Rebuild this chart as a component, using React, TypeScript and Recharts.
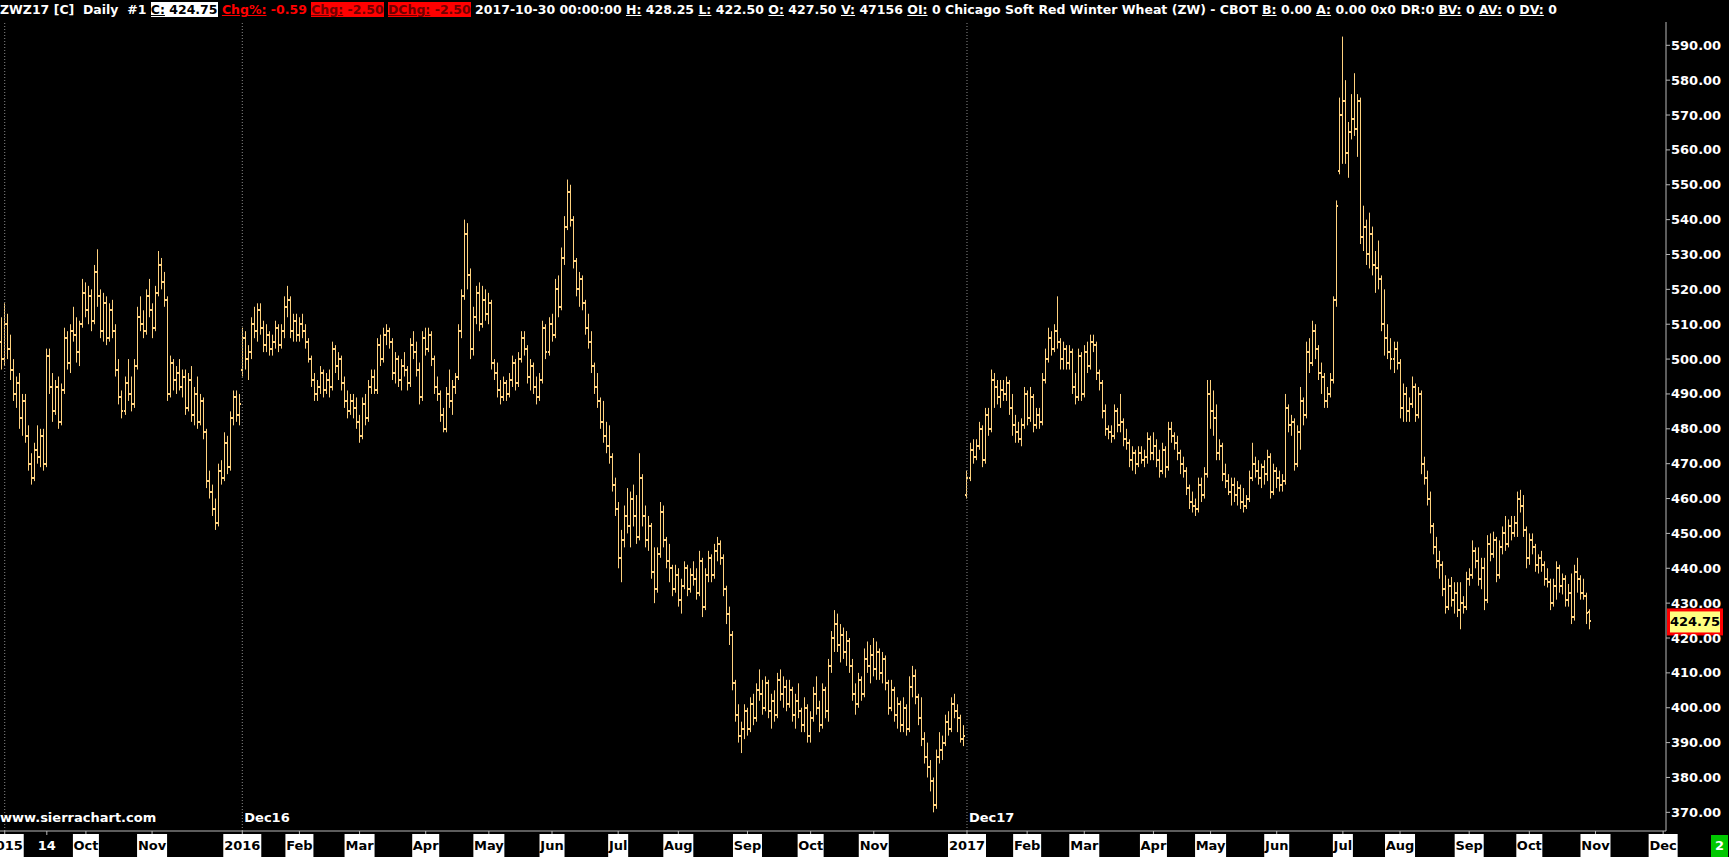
import { ComposedChart, Bar, XAxis, YAxis, ReferenceLine } from "recharts";

// ZWZ17 continuous daily bars (Dec15 -> Dec16 -> Dec17 contracts)
const opens = [
  505,500,510,503,497,490,493,483,488,478, 470,466,474,472,478,470,501,492,485,492,
  482,491,506,499,508,507,502,510,519,514, 518,511,525,518,508,516,506,514,508,497,
  489,485,493,490,487,498,512,510,508,518, 514,509,519,527,522,517,490,499,494,496,
  492,495,486,494,484,490,482,488,479,465, 462,457,453,468,466,476,469,483,489,484,
  497,506,500,502,510,508,514,509,504,507, 503,505,509,504,508,515,517,508,511,507,
  510,508,505,500,494,490,492,496,491,494, 492,503,498,500,493,488,485,488,486,482,
  478,487,483,492,495,491,504,500,507,508, 505,496,500,494,498,497,493,504,502,497,
  489,506,503,507,500,492,490,484,480,490, 488,492,495,508,518,536,524,503,512,519,
  510,517,513,516,499,496,491,489,493,490, 494,499,493,500,506,503,495,498,492,489,
  494,509,502,510,507,520,515,529,538,548, 540,528,520,523,516,509,505,498,492,488,
  482,478,475,472,464,457,443,448,455,452, 460,455,449,466,455,448,452,439,434,444,
  456,448,442,440,434,438,431,435,440,434, 438,437,433,442,429,438,443,438,445,447,
  443,434,427,421,407,398,392,394,399,394, 401,397,405,404,400,407,399,402,398,408,
  404,406,401,405,398,402,399,395,400,392, 397,404,400,395,405,399,412,420,424,418,
  421,416,419,412,404,401,408,404,414,412, 415,411,416,410,414,407,400,405,398,401,
  395,400,394,406,409,403,397,391,386,383, 379,372,386,388,390,396,394,401,399,397,391,
  461,466,474,472,475,480,471,484,480,494, 492,489,491,490,493,486,481,479,477,481,
  490,483,489,481,484,482,494,500,506,503, 508,505,500,503,499,502,492,489,501,490,
  502,498,505,504,496,493,485,480,479,478, 485,481,482,477,476,471,473,470,473,471,
  472,477,473,475,471,468,474,469,480,478, 476,473,470,468,463,459,458,457,464,461,
  467,490,485,483,473,475,467,465,462,464, 461,463,459,458,460,466,470,468,466,469,
  467,472,462,468,466,464,465,486,481,482, 470,479,488,484,502,499,508,503,496,495,
  488,490,494,517,554,570,574,559,565,569, 566,574,535,538,530,536,527,526,523,510,
  506,502,500,503,499,486,490,485,487,492, 484,490,470,466,460,452,446,442,441,434,
  429,435,431,433,428,430,429,437,438,445, 442,437,440,431,447,444,448,438,446,450,
  447,452,450,453,460,458,451,443,448,446, 441,443,441,437,436,430,435,440,435,437,
  431,433,426,439,437,433,432,427.5,
];
const highs = [
  512,516,513,507,500,495,496,490,490,481, 473,476,481,480,480,503,503,496,494,495,
  493,509,508,510,515,512,511,523,522,521, 520,527,531.5,520,519,518,516,517,510,500,
  491,495,500,495,500,515,518,514,520,523, 516,521,531,529,525,518,501,500,498,500,
  497,497,496,498,492,495,490,489,480,468, 464,460,470,471,479,478,485,491,491,490,
  509,508,504,512,515,516,516,511,510,508, 507,511,510,510,518,521,518,513,513,512,
  513,510,506,501,496,494,498,497,496,497, 505,504,502,501,495,491,490,490,489,484,
  489,490,494,497,497,506,507,509,510,509, 506,502,501,500,502,498,506,508,505,499,
  508,509,509,508,501,495,491,486,492,497, 494,496,510,520,540,539,526,515,521,522,
  521,520,519,517,500,499,494,495,494,496, 501,500,502,508,508,504,500,499,495,496,
  511,510,512,513,523,524,532,541,551.5,550, 541,529,525,524,517,513,508,499,496,489,
  488,482,481,473,466,459,451,458,463,462, 464,461,473,467,458,455,453,446,446,459,
  458,449,447,441,441,440,437,442,441,440, 442,440,445,443,440,445,444,447,449,448,
  444,435,429,422,408,401,396,401,400,403, 404,407,411,408,409,408,404,405,410,411,
  409,408,408,406,404,407,400,403,401,399, 406,409,402,407,406,414,422,428,427,424,
  423,422,420,414,407,410,409,417,419,418, 420,419,417,416,415,408,408,406,403,402,
  403,401,409,412,411,404,403,393,390,385, 380,388,393,392,398,399,403,404,401,398,395,
  468,476,477,477,482,481,486,486,497,496, 494,494,494,495,494,490,484,482,483,492,
  491,492,490,486,486,496,503,509,508,510, 518,506,505,504,504,503,496,503,502,504,
  505,507,507,505,497,494,487,481,481,487, 486,490,483,480,477,475,474,475,475,474,
  479,478,479,477,474,476,475,482,482,479, 478,474,472,469,464,462,460,466,466,469,
  494,494,491,487,477,476,470,467,466,466, 465,464,463,461,468,476,472,471,470,471,
  474,473,470,469,468,467,490,487,484,483, 481,492,489,505,506,511,510,504,499,496,
  492,496,518,545.5,575,592.5,580,568,576,582, 576,575,544,540,542,538,531,534,524,520,
  510,506,505,505,500,493,492,489,495,493, 492,491,472,468,462,453,449,445,442,438,
  437,437.5,436,436,436,432,439,440,448,446, 446,443,443,449.5,450,450.5,449,448,452,455,
  454,455,455,462,462.5,461,452,450,450,447, 444,445,442,440,437,437,442,441,438.5,438,
  435.5,438.5,441,443,438,437,433,428.25,
];
const lows = [
  497,498,500,494,488,486,480,478,476,468, 464,465,470,469,468,469,490,482,484,480,
  481,490,497,496,505,499,498,509,512,510, 508,510,515,506,505,504,505,506,495,487,
  483,484,488,485,486,497,508,506,507,512, 506,508,518,520,515,488,489,491,490,491,
  489,484,485,482,481,480,481,477,463,460, 455,451,452,464,465,467,468,481,482,481,
  495,497,494,500,506,505,507,502,502,501, 501,503,502,503,506,512,506,505,505,505,
  506,503,499,492,488,488,490,489,490,489, 491,496,494,491,486,483,484,483,480,476,
  477,481,482,490,490,490,498,499,504,503, 494,493,492,491,495,491,492,500,495,487,
  488,501,502,498,490,488,482,479,479,486, 484,490,494,506,517,520,500,501,510,508,
  509,511,510,497,494,489,487,488,488,489, 492,491,492,499,501,493,491,490,487,488,
  493,500,501,505,506,512,514,527,537,538, 526,518,515,514,507,503,496,490,486,480,
  476,473,470,462,455,440,436,446,450,446, 452,447,448,452,446,445,437,430,433,443,
  446,440,436,432,433,429,427,434,432,433, 435,431,432,426,428,436,436,437,442,441,
  432,424,418,405,396,390,387,391,392,393, 395,396,402,398,399,397,394,396,397,402,
  400,399,400,396,394,397,393,393,390,390, 396,398,393,394,397,396,410,416,416,413,
  414,412,410,402,398,400,402,403,410,407, 409,408,408,407,405,398,399,396,394,393,
  393,392,393,403,401,395,389,384,380,376, 370,371,384,385,389,392,393,397,393,390,389,
  460,465,470,471,474,469,470,478,479,486, 487,486,488,488,484,478,476,476,475,480,
  481,482,479,480,480,481,493,499,501,502, 503,497,497,497,497,490,487,488,488,489,
  496,497,502,494,491,483,478,477,476,477, 479,479,475,474,469,468,467,469,470,469,
  470,471,471,469,466,467,466,468,476,474, 471,467,466,461,457,456,455,456,459,460,
  466,480,478,471,471,465,463,461,458,459, 458,457,456,457,459,465,466,464,463,464,
  465,460,461,463,462,462,464,479,478,468, 469,474,481,483,496,498,500,494,490,486,
  486,489,493,515,553,556,556,552,563,564, 558,533,531,527,526,524,519,520,508,501,
  500,497,496,497,483,482,482,482,486,482, 483,467,464,458,450,444,440,437,432,427,
  428,429,427,426,422.5,427,428,435,437,440, 435,434,428,430,442,443,436,437,444,445,
  446,448,449,449,456,449,440,441,444,439, 438.5,439,435,434.5,428,429,431,433,432.5,429,
  429,424,425,433,431,431,424,422.5,
];
const closes = [
  500,510,503,497,490,493,483,488,478,470, 466,474,472,478,470,501,492,485,492,482,
  491,506,499,508,507,502,510,519,514,518, 511,525,518,508,516,506,514,508,497,489,
  485,493,490,487,498,512,510,508,518,514, 509,519,527,522,517,490,499,494,496,492,
  495,486,494,484,490,482,488,479,465,462, 457,453,468,466,476,469,483,489,484,487,
  506,500,502,510,508,514,509,504,507,503, 505,509,504,508,515,517,508,511,507,510,
  508,505,500,494,490,492,496,491,494,492, 503,498,500,493,488,485,488,486,482,478,
  487,483,492,495,491,504,500,507,508,505, 496,500,494,498,497,493,504,502,497,489,
  506,503,507,500,492,490,484,480,490,488, 492,495,508,518,536,524,503,512,519,510,
  517,513,516,499,496,491,489,493,490,494, 499,493,500,506,503,495,498,492,489,494,
  509,502,510,507,520,515,529,538,548,540, 528,520,523,516,509,505,498,492,488,482,
  478,475,472,464,457,443,448,455,452,460, 455,449,466,455,448,452,439,434,444,456,
  448,442,440,434,438,431,435,440,434,438, 437,433,442,429,438,443,438,445,447,443,
  434,427,421,407,398,392,394,399,394,401, 397,405,404,400,407,399,402,398,408,404,
  406,401,405,398,402,399,395,400,392,397, 404,400,395,405,399,412,420,424,418,421,
  416,419,412,404,401,408,404,414,412,415, 411,416,410,414,407,400,405,398,401,395,
  400,394,406,409,403,397,391,386,383,379, 372,386,388,390,396,394,401,399,397,391,392,
  466,474,472,475,480,471,484,480,494,492, 489,491,490,493,486,481,479,477,481,490,
  483,489,481,484,482,494,500,506,503,508, 505,500,503,499,502,492,489,501,490,502,
  498,505,504,496,493,485,480,479,478,485, 481,482,477,476,471,473,470,473,471,472,
  477,473,475,471,468,474,469,480,478,476, 473,470,468,463,459,458,457,464,461,467,
  490,485,483,473,475,467,465,462,464,461, 463,459,458,460,466,470,468,466,469,467,
  472,462,468,466,464,465,486,481,482,470, 479,488,484,502,499,508,503,496,495,488,
  490,494,517,544,570,574,559,565,569,566, 574,535,538,530,536,527,526,523,510,506,
  502,500,503,499,486,490,485,487,492,484, 490,470,466,460,452,446,442,441,434,429,
  435,431,433,428,430,429,437,438,445,442, 437,440,431,447,444,448,438,446,450,447,
  452,450,453,460,458,451,443,448,446,441, 443,441,437,436,430,435,440,435,437,431,
  433,426,439,437,433,432,427.25,424.75,
];

// date axis: bar index of each labelled day, and its label
const tickIdx = [1, 15, 28, 50, 80, 99, 119, 141, 162, 183, 205, 225, 248, 269, 290,
  321, 341, 360, 383, 402, 424, 446, 465, 488, 508, 530, 552.5];
const tickText = ["2015", "14", "Oct", "Nov", "2016", "Feb", "Mar", "Apr", "May", "Jun", "Jul", "Aug", "Sep", "Oct", "Nov",
  "2017", "Feb", "Mar", "Apr", "May", "Jun", "Jul", "Aug", "Sep", "Oct", "Nov", "Dec"];
const priceTicks = [370, 380, 390, 400, 410, 420, 430, 440, 450, 460, 470, 480, 490, 500, 510, 520, 530, 540, 550, 560, 570, 580, 590];
const rollIdx = [1, 80, 321];
const rollText = ["", "Dec16", "Dec17"];

const FONT = "'DejaVu Sans', Verdana, sans-serif";
const BAR = "#ffd27f";
const AXIS = "#b8b8b8";

const rows = closes.map((c, i) => ({ i, range: [lows[i], highs[i]], o: opens[i], h: highs[i], l: lows[i], c }));
const last = closes.length - 1;
const chg = closes[last] - closes[last - 1];
const chgPct = (chg / closes[last - 1]) * 100;

let ctx: CanvasRenderingContext2D | null = null;
function textWidth(s: string) {
  if (!ctx) ctx = document.createElement("canvas").getContext("2d");
  ctx!.font = `bold 13px ${FONT}`;
  return ctx!.measureText(s).width;
}

function OhlcShape(props: any) {
  const { x, y, width, height, payload } = props;
  if (x == null || y == null || !payload) return null;
  const top = Math.min(y, y + height);
  const bot = Math.max(y, y + height);
  const span = payload.h - payload.l;
  const at = (v: number) => (span > 0 ? top + ((payload.h - v) / span) * (bot - top) : top);
  const cx = Math.round(x + width / 2 - 0.5);
  const oy = Math.round(at(payload.o));
  const cy = Math.round(at(payload.c));
  return (
    <g fill={BAR}>
      <rect x={cx} y={top} width={1} height={Math.max(bot - top, 1)} />
      <rect x={cx - 1} y={oy - 1} width={1} height={2} />
      <rect x={cx + 1} y={cy - 1} width={1} height={2} />
    </g>
  );
}

function DateTick({ x, y, payload }: any) {
  const label = tickText[tickIdx.indexOf(payload.value)];
  if (!label) return null;
  const plain = label === "14";
  const w = Math.ceil(textWidth(label)) + 1;
  return (
    <g>
      {!plain && <rect x={x - w / 2} y={y - 1} width={w} height={23} fill="#fff" />}
      <text x={x} y={y + 15} textAnchor="middle" fill={plain ? "#fff" : "#000"} fontFamily={FONT} fontWeight="bold" fontSize={13}>
        {label}
      </text>
    </g>
  );
}

function PriceTick({ x, y, payload }: any) {
  return (
    <text x={x} y={y + 4.5} fill="#fff" fontFamily={FONT} fontWeight="bold" fontSize={13}>
      {Number(payload.value).toFixed(2)}
    </text>
  );
}

function RollLabel({ viewBox, text }: any) {
  if (!viewBox || !text) return null;
  return (
    <text x={viewBox.x + 2} y={viewBox.y + viewBox.height - 9} fill="#fff" fontFamily={FONT} fontWeight="bold" fontSize={13}>
      {text}
    </text>
  );
}

function LastPrice({ viewBox }: any) {
  if (!viewBox) return null;
  const x = viewBox.x + viewBox.width + 2.5;
  return (
    <g>
      <rect x={x} y={viewBox.y - 11.5} width={53} height={24} fill="#ffff80" stroke="#ff0000" strokeWidth={3} />
      <text x={x + 26.5} y={viewBox.y + 5} textAnchor="middle" fill="#000" fontFamily={FONT} fontWeight="bold" fontSize={13}>
        {closes[last].toFixed(2)}
      </text>
    </g>
  );
}

const U = ({ children }: any) => <span style={{ textDecoration: "underline" }}>{children}</span>;

export default function App() {
  return (
    <div style={{ position: "fixed", left: 0, top: 0, width: 1729, height: 857, background: "#000", overflow: "hidden", fontFamily: FONT }}>
      <ComposedChart width={1729} height={857} data={rows} margin={{ top: 22, right: 0, bottom: 0, left: 0 }}>
        <XAxis
          dataKey="i"
          type="number"
          domain={[-0.57, 553.45]}
          allowDataOverflow
          ticks={tickIdx}
          interval={0}
          height={26}
          tickSize={4}
          tickMargin={0}
          stroke={AXIS}
          tickLine={{ stroke: AXIS }}
          tick={<DateTick />}
        />
        <YAxis
          orientation="right"
          type="number"
          domain={[364.645, 596.683]}
          allowDataOverflow
          ticks={priceTicks}
          interval={0}
          width={63}
          tickSize={4}
          tickMargin={1}
          stroke={AXIS}
          tickLine={{ stroke: AXIS }}
          tick={<PriceTick />}
        />
        {rollIdx.map((r, k) => (
          <ReferenceLine key={r} x={r} stroke="#8a8a8a" strokeDasharray="1 2" label={<RollLabel text={rollText[k]} />} />
        ))}
        <Bar dataKey="range" barSize={3} shape={<OhlcShape />} isAnimationActive={false} />
        <ReferenceLine y={closes[last]} stroke="none" label={<LastPrice />} />
      </ComposedChart>

      <div style={{ position: "absolute", left: 0, top: 2, whiteSpace: "pre", color: "#fff", fontWeight: "bold", fontSize: 12.5, lineHeight: "16px" }}>
        {"ZWZ17 [C]  Daily  #1 "}
        <span style={{ background: "#fff", color: "#000" }}><U>C:</U> {closes[last].toFixed(2)}</span>{" "}
        <span style={{ color: "#ff0000" }}><U>Chg%:</U> {chgPct.toFixed(2)}</span>{" "}
        <span style={{ background: "#ff0000", color: "#700000" }}><U>Chg:</U> {chg.toFixed(2)}</span>{" "}
        <span style={{ background: "#ff0000", color: "#700000" }}><U>DChg:</U> {chg.toFixed(2)}</span>
        {" 2017-10-30 00:00:00 "}
        <U>H:</U> {highs[last].toFixed(2)} <U>L:</U> {lows[last].toFixed(2)} <U>O:</U> {opens[last].toFixed(2)} <U>V:</U> 47156 <U>OI:</U> 0
        {" Chicago Soft Red Winter Wheat (ZW) - CBOT "}
        <U>B:</U> 0.00 <U>A:</U> 0.00 0x0 DR:0 <U>BV:</U> 0 <U>AV:</U> 0 <U>DV:</U> 0
      </div>

      <div style={{ position: "absolute", left: 0, top: 810, color: "#fff", fontWeight: "bold", fontSize: 13, lineHeight: "16px" }}>
        www.sierrachart.com
      </div>
      <div style={{ position: "absolute", left: 1711, top: 835, width: 17, height: 22, background: "#00c800", color: "#fff", fontWeight: "bold", fontSize: 13, lineHeight: "22px", textAlign: "center" }}>
        2
      </div>
    </div>
  );
}
